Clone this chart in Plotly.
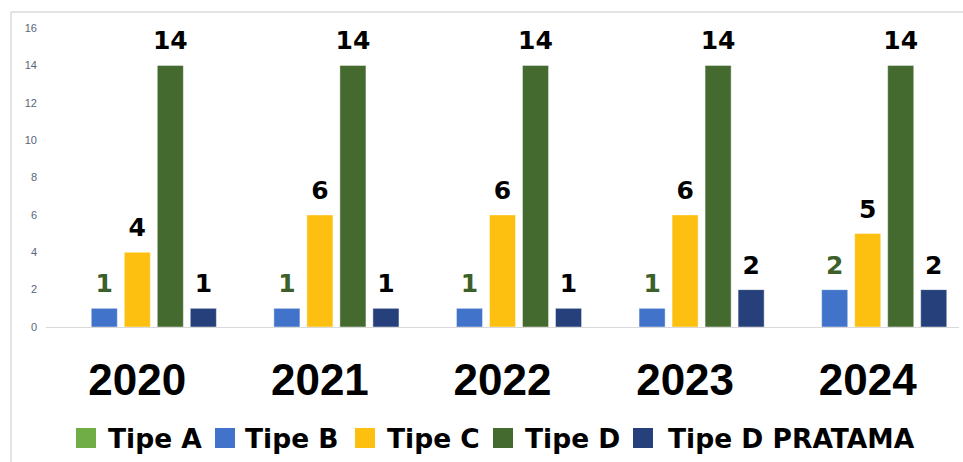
import plotly.graph_objects as go

years = ["2020", "2021", "2022", "2023", "2024"]
series_names = ["Tipe A", "Tipe B", "Tipe C", "Tipe D", "Tipe D PRATAMA"]
tipe_a = [0, 0, 0, 0, 0]
tipe_b = [1, 1, 1, 1, 2]
tipe_c = [4, 6, 6, 6, 5]
tipe_d = [14, 14, 14, 14, 14]
tipe_d_pratama = [1, 1, 1, 2, 2]
y_ticks = [0, 2, 4, 6, 8, 10, 12, 14, 16]

series_values = [tipe_a, tipe_b, tipe_c, tipe_d, tipe_d_pratama]
colors = ["#70AD47", "#4273CB", "#FDC010", "#456A30", "#25407A"]
label_colors = ["#3D5F2A", "#3D5F2A", "#000000", "#000000", "#000000"]
show_labels = [False, True, True, True, True]

W, H = 963, 462
ML, MR, MT, MB = 46, 4, 28, 135
PW, PH = W - ML - MR, H - MT - MB
GAP = 0.096


def px_x(px):
    return (px - ML) / PW


def px_y(py):
    return (H - MB - py) / PH


fig = go.Figure()
for name, vals, col in zip(series_names, series_values, colors):
    fig.add_trace(go.Bar(
        x=years, y=vals, name=name,
        marker=dict(color=col, line=dict(color="rgba(255,255,255,0.45)", width=1)),
        showlegend=False, hoverinfo="skip",
    ))

# value labels, grouped like the bars
for name, vals, lcol, show in zip(series_names, series_values, label_colors, show_labels):
    texts = [str(v) if show else "" for v in vals]
    fig.add_trace(go.Scatter(
        x=years, y=vals, name=name, mode="markers+text",
        marker=dict(size=14, opacity=0),
        text=texts, textposition="top center", cliponaxis=False,
        textfont=dict(family="DejaVu Sans", size=25, color=lcol, weight="bold"),
        showlegend=False, hoverinfo="skip",
    ))

# custom legend (large squares)
leg_sq = [76, 215, 355, 493, 633]
leg_tx = [106, 243, 385, 523, 666]
shapes = []
annotations = []
for name, col, sx, tx in zip(series_names, colors, leg_sq, leg_tx):
    shapes.append(dict(type="rect", xref="paper", yref="paper",
                       x0=px_x(sx), x1=px_x(sx + 20), y0=px_y(448), y1=px_y(428),
                       fillcolor=col, line=dict(width=0)))
    annotations.append(dict(xref="paper", yref="paper", x=px_x(tx), y=px_y(438),
                            xanchor="left", yanchor="middle", showarrow=False,
                            text=name,
                            font=dict(family="DejaVu Sans", size=26.5, color="#000000", weight="bold")))

# outer border (top and left)
shapes.append(dict(type="line", xref="paper", yref="paper",
                   x0=px_x(11), x1=px_x(W + 5), y0=px_y(12), y1=px_y(12),
                   line=dict(color="#C8C8C8", width=1)))
shapes.append(dict(type="line", xref="paper", yref="paper",
                   x0=px_x(11), x1=px_x(11), y0=px_y(12), y1=px_y(H + 5),
                   line=dict(color="#C8C8C8", width=1)))

fig.update_layout(
    width=W, height=H,
    margin=dict(l=ML, r=MR, t=MT, b=MB, autoexpand=False),
    paper_bgcolor="white", plot_bgcolor="white",
    barmode="group", bargap=GAP, bargroupgap=0.21,
    scattermode="group", scattergap=GAP,
    shapes=shapes, annotations=annotations,
    showlegend=False,
    xaxis=dict(
        showline=True, linecolor="#D9D9D9", linewidth=1,
        showgrid=False, ticks="",
        tickfont=dict(family="Liberation Sans", size=44, color="#000000", weight="bold"),
        ticklabelstandoff=14,
    ),
    yaxis=dict(
        range=[0, 16], tickvals=y_ticks, showgrid=False, zeroline=False,
        showline=False, ticks="",
        tickfont=dict(family="Liberation Sans Narrow, Liberation Sans", size=11, color="#5B6577"),
        ticklabelstandoff=8,
    ),
)

fig.write_html("out.html", config={"displayModeBar": False},
               post_script="document.body.style.margin='0px';document.body.style.overflow='hidden';")
